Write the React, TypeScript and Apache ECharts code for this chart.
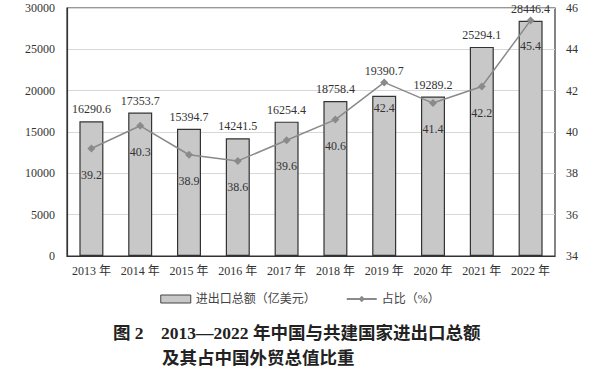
import React, { useEffect, useRef } from "react";
import * as echarts from "echarts";

const categories = ["2013 年", "2014 年", "2015 年", "2016 年", "2017 年", "2018 年", "2019 年", "2020 年", "2021 年", "2022 年"];
const tradeValues = [16290.6, 17353.7, 15394.7, 14241.5, 16254.4, 18758.4, 19390.7, 19289.2, 25294.1, 28446.4];
const shareValues = [39.2, 40.3, 38.9, 38.6, 39.6, 40.6, 42.4, 41.4, 42.2, 45.4];
const titleLine1 = "图 2　2013—2022 年中国与共建国家进出口总额";
const titleLine2 = "及其占中国外贸总值比重";

const FONT = "'Liberation Serif', 'Noto Sans CJK SC', serif";

export default function App() {
  const ref = useRef<HTMLDivElement>(null);
  useEffect(() => {
    if (!ref.current) return;
    const chart = echarts.init(ref.current, null, { renderer: "svg" });
    const barData = tradeValues.map((v, i) =>
      i === 6 ? { value: v, label: { distance: 19 } } : v
    );
    chart.setOption({
      animation: false,
      backgroundColor: "#ffffff",
      textStyle: { fontFamily: FONT },
      grid: { left: 67, right: 45, top: 8, bottom: 113, show: true, borderColor: "#333", borderWidth: 1.2, backgroundColor: "transparent" },
      legend: {
        top: 288,
        left: "center",
        itemGap: 30,
        itemWidth: 30,
        itemHeight: 8,
        textStyle: { fontFamily: FONT, fontSize: 12, color: "#444" },
        data: [
          { name: "进出口总额（亿美元）", icon: "rect", itemStyle: { color: "#c8c8c8", borderColor: "#444", borderWidth: 1 } },
          { name: "占比（%）" },
        ],
      },
      xAxis: {
        type: "category",
        data: categories,
        axisLine: { lineStyle: { color: "#333", width: 1.2 } },
        axisTick: { show: false },
        axisLabel: { color: "#333", fontSize: 12, fontFamily: FONT, margin: 9, interval: 0 },
      },
      yAxis: [
        {
          type: "value",
          min: 0,
          max: 30000,
          interval: 5000,
          axisLine: { show: true, lineStyle: { color: "#333", width: 1.2 } },
          axisTick: { show: false },
          axisLabel: { color: "#333", fontSize: 12, fontFamily: FONT, margin: 12, formatter: (v: number) => String(v) },
          splitLine: { lineStyle: { color: "#d8d8d8", width: 1 } },
        },
        {
          type: "value",
          min: 34,
          max: 46,
          interval: 2,
          position: "right",
          axisLine: { show: false },
          axisTick: { show: false },
          axisLabel: { color: "#333", fontSize: 12, fontFamily: FONT, margin: 11 },
          splitLine: { show: false },
        },
      ],
      series: [
        {
          name: "进出口总额（亿美元）",
          type: "bar",
          data: barData,
          barWidth: 24,
          itemStyle: { color: "#c8c8c8", borderColor: "#333", borderWidth: 1.2 },
          label: { show: true, position: "top", distance: 6, color: "#333", fontSize: 12, fontFamily: FONT, formatter: (p: any) => Number(p.value).toFixed(1) },
        },
        {
          name: "占比（%）",
          type: "line",
          yAxisIndex: 1,
          data: shareValues,
          symbol: "diamond",
          symbolSize: 8,
          lineStyle: { color: "#8a8a8a", width: 1.5 },
          itemStyle: { color: "#8a8a8a" },
          label: { show: true, position: "bottom", distance: 16, color: "#333", fontSize: 12, fontFamily: FONT, formatter: (p: any) => Number(p.value).toFixed(1) },
          z: 5,
        },
      ],
      graphic: [
        {
          type: "text",
          left: 113,
          top: 324,
          style: { text: titleLine1, font: "bold 17.5px 'Liberation Serif', 'Noto Sans CJK SC', serif", fill: "#222" },
        },
        {
          type: "text",
          left: 162,
          top: 348,
          style: { text: titleLine2, font: "bold 17.5px 'Noto Sans CJK SC', serif", fill: "#222" },
        },
      ],
    });
    return () => chart.dispose();
  }, []);
  return <div ref={ref} style={{ width: 600, height: 369, position: "absolute", left: 0, top: 0 }} />;
}
